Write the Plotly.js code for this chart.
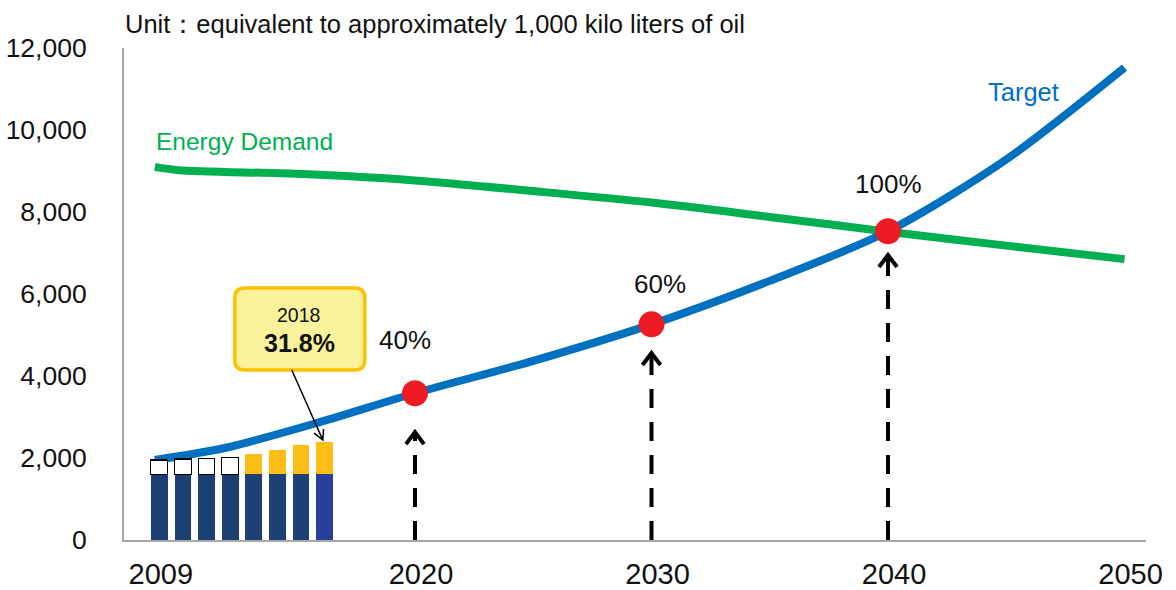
<!DOCTYPE html>
<html>
<head>
<meta charset="utf-8">
<script src="https://cdn.plot.ly/plotly-3.0.1.min.js"></script>
<style>html,body{margin:0;padding:0;background:#fff;}#chart{width:1176px;height:590px;}</style>
</head>
<body>
<div id="chart"></div>
<script>
// ---- data ----
const targetYears = [2009, 2012, 2016, 2020, 2025, 2030, 2035, 2040, 2045, 2050];
const targetValues = [1950, 2250, 2880, 3580, 4370, 5260, 6320, 7530, 9280, 11520];
const demandYears = [2009, 2010, 2015, 2020, 2025, 2030, 2035, 2040, 2045, 2050];
const demandValues = [9100, 9020, 8930, 8770, 8510, 8230, 7880, 7520, 7180, 6850];
const milestoneYears = [2020, 2030, 2040];
const milestoneValues = [3580, 5260, 7530];
const milestoneLabels = ["40%", "60%", "100%"];
const arrowTops = [2630, 4560, 6950];
const barYears = [2011, 2012, 2013, 2014, 2015, 2016, 2017, 2018];
const baseValues = [1600, 1600, 1600, 1600, 1600, 1600, 1600, 1600];
const whiteValues = [350, 375, 390, 415, null, null, null, null];
const yellowValues = [null, null, null, null, 505, 587, 725, 790];
const xTickVals = [2009, 2020, 2030, 2040, 2050];
const yTickVals = [0, 2000, 4000, 6000, 8000, 10000, 12000];
const calloutYear = "2018";
const calloutShare = "31.8%";
const unitText = "Unit：equivalent to approximately 1,000 kilo liters of oil";

// ---- styling ----
const FONT = "Arial, 'Liberation Sans', sans-serif";
const BLUE = "#0070C0", GREEN = "#00B050", RED = "#ED1C24";
const xRange = [2007.696, 2050.909];
const barOffset = 1.814;

const baseColors = barYears.map((y, i) => i === barYears.length - 1 ? "#283F9B" : "#1C3F74");
const lastIdx = barYears.length - 1;
const lastTotal = baseValues[lastIdx] + (yellowValues[lastIdx] || 0) + (whiteValues[lastIdx] || 0);

const traces = [
  {type: "bar", x: barYears, y: baseValues, xaxis: "x2", yaxis: "y", width: 0.706,
   marker: {color: baseColors, line: {width: 0}}, hoverinfo: "skip"},
  {type: "bar", x: barYears, y: whiteValues, xaxis: "x2", yaxis: "y", width: 0.706,
   marker: {color: "#FFFFFF", line: {color: "#000000", width: 1.2}}, hoverinfo: "skip"},
  {type: "bar", x: barYears, y: yellowValues, xaxis: "x2", yaxis: "y", width: 0.706,
   marker: {color: "#FDBF16", line: {width: 0}}, hoverinfo: "skip"},
  {type: "scatter", mode: "lines", x: demandYears, y: demandValues, xaxis: "x", yaxis: "y",
   line: {color: GREEN, width: 8, shape: "spline", smoothing: 0.8}, hoverinfo: "skip"},
  {type: "scatter", mode: "lines", x: targetYears, y: targetValues, xaxis: "x", yaxis: "y",
   line: {color: BLUE, width: 8, shape: "spline", smoothing: 0.8}, hoverinfo: "skip"},
  {type: "scatter", mode: "markers", x: milestoneYears, y: milestoneValues, xaxis: "x", yaxis: "y",
   marker: {color: RED, size: 26, line: {width: 0}}, hoverinfo: "skip"}
];

const shapes = [];
milestoneYears.forEach((yr, i) => {
  shapes.push({type: "line", xref: "x", yref: "y", x0: yr, x1: yr, y0: 0, y1: arrowTops[i],
    line: {color: "#000", width: 4, dash: "19px,14px"}, layer: "above"});
  shapes.push({type: "path", xref: "x", yref: "y", xsizemode: "pixel", ysizemode: "pixel",
    xanchor: yr, yanchor: arrowTops[i], path: "M -9,-12 L 0,0 L 9,-12",
    line: {color: "#000", width: 4}, layer: "above"});
});
// callout box (rounded) anchored at the top of the last bar
shapes.push({type: "path", xref: "x2", yref: "y", xsizemode: "pixel", ysizemode: "pixel",
  xanchor: barYears[lastIdx], yanchor: lastTotal,
  path: "M -80,72 H 30 Q 40,72 40,82 V 144 Q 40,154 30,154 H -80 Q -90,154 -90,144 V 82 Q -90,72 -80,72 Z",
  fillcolor: "#FAF39B", line: {color: "#FFC000", width: 3.5}, layer: "above"});
shapes.push({type: "path", xref: "x2", yref: "y", xsizemode: "pixel", ysizemode: "pixel",
  xanchor: barYears[lastIdx], yanchor: lastTotal,
  path: "M -33,72 L -2,2 M -10.7,8.8 L -2,2 L -1.2,13",
  line: {color: "#000", width: 1.5}, layer: "above"});

const annotations = [];
milestoneYears.forEach((yr, i) => {
  const shifts = [[-10, 53], [8, 40], [0, 47]][i];
  annotations.push({xref: "x", yref: "y", x: yr, y: milestoneValues[i], text: milestoneLabels[i],
    showarrow: false, xshift: shifts[0], yshift: shifts[1], font: {size: 26, color: "#111", family: FONT}});
});
annotations.push({xref: "x", yref: "y", x: demandYears[0], y: demandValues[0], text: "Energy Demand",
  showarrow: false, xanchor: "left", xshift: -1, yshift: 25, font: {size: 24.5, color: GREEN, family: FONT}});
annotations.push({xref: "x", yref: "y", x: targetYears[targetYears.length - 1], y: targetValues[targetValues.length - 1],
  text: "Target", showarrow: false, xshift: -101, yshift: -24, font: {size: 25.5, color: BLUE, family: FONT}});
annotations.push({xref: "x2", yref: "y", x: barYears[lastIdx], y: lastTotal, text: calloutYear,
  showarrow: false, xshift: -26, yshift: 127, font: {size: 19.5, color: "#111", family: FONT}});
annotations.push({xref: "x2", yref: "y", x: barYears[lastIdx], y: lastTotal, text: "<b>" + calloutShare + "</b>",
  showarrow: false, xshift: -25, yshift: 99, font: {size: 25, color: "#111", family: FONT}});
annotations.push({xref: "paper", yref: "paper", x: 0, y: 1, xanchor: "left", yanchor: "middle",
  text: unitText, showarrow: false, yshift: 24, xshift: -1, font: {size: 25.5, color: "#111", family: FONT}});

const layout = {
  width: 1176, height: 590,
  margin: {l: 124, r: 30, t: 48, b: 50},
  paper_bgcolor: "#fff", plot_bgcolor: "#fff",
  showlegend: false, barmode: "stack",
  font: {family: FONT, color: "#111"},
  xaxis: {range: xRange, tickvals: xTickVals, ticktext: xTickVals.map(String),
    showgrid: false, zeroline: false, showline: true, linecolor: "#A6A6A6", linewidth: 2,
    ticks: "outside", ticklen: 7, tickcolor: "rgba(0,0,0,0)", ticklabelshift: 6,
    tickfont: {size: 29, color: "#111", family: FONT}},
  xaxis2: {range: [xRange[0] + barOffset, xRange[1] + barOffset], overlaying: "x", visible: false},
  yaxis: {range: [0, 12000], tickvals: yTickVals, tickformat: ",d",
    showgrid: false, zeroline: false, showline: true, linecolor: "#A6A6A6", linewidth: 2,
    ticks: "outside", ticklen: 30, tickcolor: "rgba(0,0,0,0)",
    tickfont: {size: 26.5, color: "#111", family: FONT}},
  shapes: shapes, annotations: annotations,
  hovermode: false
};

Plotly.newPlot("chart", traces, layout, {displayModeBar: false, staticPlot: true});
</script>
</body>
</html>
